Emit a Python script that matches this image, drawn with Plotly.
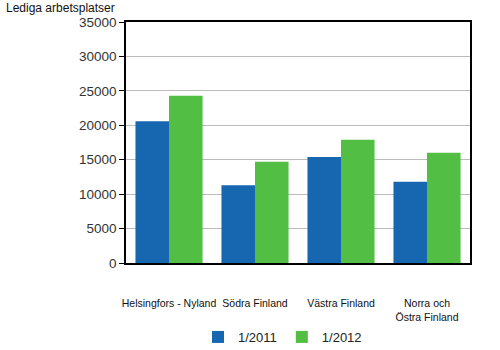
import plotly.graph_objects as go

categories = ["Helsingfors - Nyland", "Södra Finland", "Västra Finland", "Norra och<br>Östra Finland"]
series_names = ["1/2011", "1/2012"]
values_2011 = [20600, 11300, 15400, 11800]
values_2012 = [24300, 14700, 17900, 16000]
colors = ["#1767B0", "#52BE43"]
y_ticks = [0, 5000, 10000, 15000, 20000, 25000, 30000, 35000]
y_tick_labels = [str(v) for v in y_ticks]

fig = go.Figure()
for name, vals, col in zip(series_names, [values_2011, values_2012], colors):
    fig.add_trace(go.Bar(x=categories, y=vals, name=name, marker_color=col, marker_line_width=0))

fig.update_layout(
    width=500, height=350,
    margin=dict(l=126, r=30, t=22, b=87, autoexpand=False),
    paper_bgcolor="white", plot_bgcolor="white",
    barmode="group", bargap=0.22, bargroupgap=0,
    font=dict(family="Liberation Sans, Arial, sans-serif", color="#222"),
    showlegend=True,
    legend=dict(orientation="h", x=0.455, xanchor="center", y=-0.307, yanchor="middle",
                font=dict(size=13), itemwidth=30, traceorder="normal"),
    annotations=[dict(text="Lediga arbetsplatser", xref="paper", yref="paper",
                      x=-0.355, y=1.058, xanchor="left", yanchor="middle",
                      showarrow=False, font=dict(size=12, color="#111"))],
)
fig.update_xaxes(showline=True, linecolor="black", linewidth=1.5, mirror=True, automargin=False,
                 ticks="", tickfont=dict(size=10.5, color="#111"), ticklabelstandoff=30)
fig.update_yaxes(range=[0, 35000], tickvals=y_ticks, ticktext=y_tick_labels, showline=True,
                 linecolor="black", automargin=False,
                 linewidth=1.5, mirror=True, ticks="outside", ticklen=5, tickcolor="black",
                 showgrid=True, gridcolor="#BBBBBB", gridwidth=1, zeroline=False,
                 tickfont=dict(size=13.5, color="#333"))

fig.write_html("out.html")
